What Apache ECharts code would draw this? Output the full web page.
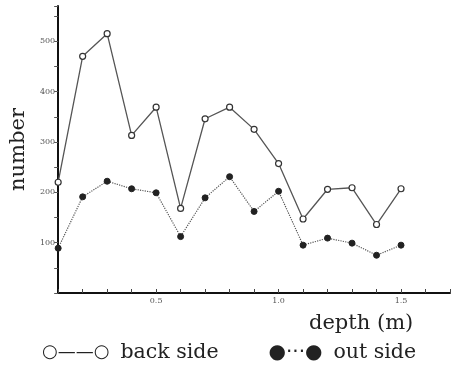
<!DOCTYPE html>
<html><head><meta charset="utf-8">
<script src="https://cdn.jsdelivr.net/npm/echarts@6/dist/echarts.min.js"></script>
<style>html,body{margin:0;padding:0;background:#fff}#c{width:454px;height:366px}</style>
</head><body><div id="c"></div>
<script>
const depth = [0.1,0.2,0.3,0.4,0.5,0.6,0.7,0.8,0.9,1.0,1.1,1.2,1.3,1.4,1.5];
const backSide = [220,470,515,313,369,168,346,369,325,257,147,206,209,136,207];
const outSide = [89,191,222,207,199,112,189,231,162,202,95,109,99,75,95];
const xTickLabels = ['0.5','1.0','1.5'];
const yTickLabels = ['100','200','300','400','500'];

const chart = echarts.init(document.getElementById('c'));
const serif = 'DejaVu Serif';
chart.setOption({
  animation:false,
  backgroundColor:'#fff',
  title:{text:'depth (m)', left:304, top:308, textStyle:{fontFamily:serif,fontWeight:'normal',fontSize:21,color:'#222'}},
  legend:{
    top:337, left:32, itemGap:45, icon:'none', itemWidth:0, itemHeight:0,
    data:['back side','out side'],
    formatter:function(n){ return n==='back side' ? '{o|○——○}{t|back side}' : '{f|●···●}{t|out side}'; },
    textStyle:{rich:{
      o:{fontFamily:'DejaVu Sans',fontSize:18,color:'#222'},
      f:{fontFamily:'DejaVu Sans',fontSize:20,color:'#222'},
      t:{fontFamily:serif,fontSize:20.5,color:'#222',padding:[0,0,0,11]}
    }}
  },
  grid:{left:49,right:4,top:6,bottom:73},
  xAxis:{type:'value',min:0.1,max:1.7,interval:0.1,
    axisLine:{lineStyle:{color:'#111',width:2}},
    axisTick:{inside:true,length:4,lineStyle:{color:'#444'}},
    splitLine:{show:false},
    axisLabel:{margin:4,fontFamily:serif,fontSize:8,color:'#555',
      formatter:function(v){const k=Math.round(v*10); return (k%5===0)? xTickLabels[k/5-1]||'' : '';}}
  },
  yAxis:{type:'value',min:0,max:570,interval:50,
    name:'number',nameLocation:'middle',nameGap:22,nameRotate:90,
    nameTextStyle:{fontFamily:serif,fontSize:21,color:'#222'},
    axisLine:{show:true,lineStyle:{color:'#111',width:2}},
    axisTick:{show:true,length:4,lineStyle:{color:'#555'}},
    splitLine:{show:false},
    axisLabel:{margin:3,fontFamily:serif,fontSize:8,color:'#555',
      formatter:function(v){return (v>0 && v%100===0)? yTickLabels[v/100-1]||'' : '';}}
  },
  series:[
    {name:'back side',type:'line',data:depth.map((d,i)=>[d,backSide[i]]),
     symbol:'circle',symbolSize:6,
     lineStyle:{color:'#555',width:1.3},
     itemStyle:{color:'#fff',borderColor:'#333',borderWidth:1.2}},
    {name:'out side',type:'line',data:depth.map((d,i)=>[d,outSide[i]]),
     symbol:'circle',symbolSize:6,
     lineStyle:{color:'#555',width:1.2,type:'dotted'},
     itemStyle:{color:'#222',borderColor:'#222'}}
  ]
});
</script></body></html>
